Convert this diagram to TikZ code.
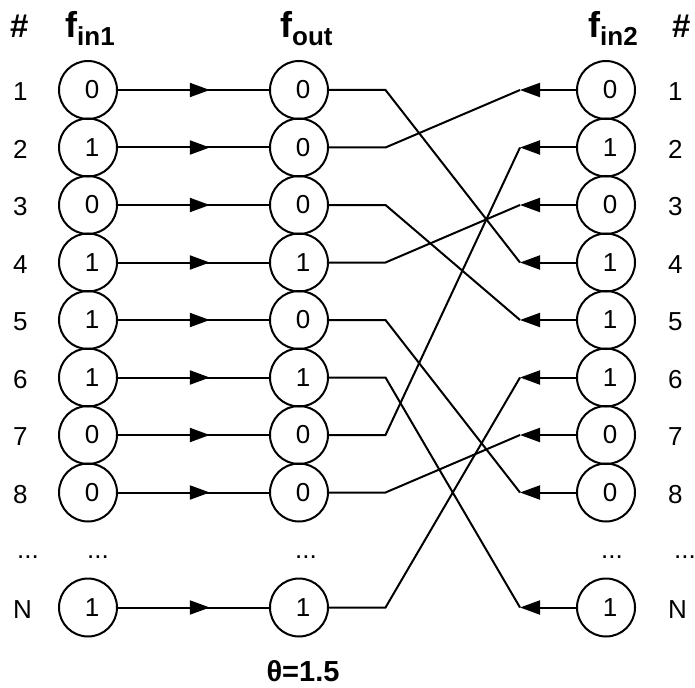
\documentclass[tikz,border=0pt]{standalone}
\usepackage{fontspec}
\setmainfont{Liberation Sans}
\usetikzlibrary{arrows.meta,calc}
\begin{document}
\begin{tikzpicture}[x=1pt,y=-1pt,
  cell/.style={circle,draw,line width=2pt,minimum size=58pt,inner sep=0pt,font=\fontsize{26}{30}\selectfont},
  lab/.style={inner sep=0pt,font=\fontsize{26}{30}\selectfont},
  head/.style={inner sep=0pt,anchor=base west,font=\bfseries\fontsize{36}{40}\selectfont},
  wire/.style={line width=2pt},
  arr/.style={line width=2pt,-{Triangle[length=20pt,width=14pt]}},
]
\useasboundingbox (0,0) rectangle (695,687);
% headers
\node[head,font=\bfseries\fontsize{33}{36}\selectfont] (hl) at (10,38) {\#};
\node[head,font=\bfseries\fontsize{33}{36}\selectfont] (hr) at (672,38) {\#};
\node[head] (h1) at (65,38) {f\raisebox{-8pt}{\fontsize{26}{28}\selectfont in1}};
\node[head] (h2) at (280,38) {f\raisebox{-8pt}{\fontsize{26}{28}\selectfont out}};
\node[head] (h3) at (588,38) {f\raisebox{-8pt}{\fontsize{26}{28}\selectfont in2}};
% rows
\foreach \k/\r/\a/\b/\c in {0/1/0/0/0,1/2/1/0/1,2/3/0/0/0,3/4/1/1/1,4/5/1/0/1,5/6/1/1/1,6/7/0/0/0,7/8/0/0/0,9/N/1/1/1}{
  \node[lab,anchor=west] (l\k) at (13,{92+57.5*\k}) {\r};
  \node[lab,anchor=west] (r\k) at (668,{92+57.5*\k}) {\r};
  \node[cell] (a\k) at (88,{90+57.5*\k}) {\raisebox{-2pt}{\hspace*{8pt}\a}};
  \node[cell] (o\k) at (299,{90+57.5*\k}) {\raisebox{-2pt}{\hspace*{8pt}\b}};
  \node[cell] (g\k) at (606,{90+57.5*\k}) {\raisebox{-2pt}{\hspace*{8pt}\c}};
  \coordinate (t\k) at (520,{90+57.5*\k});
  \draw[wire] (a\k.east) -- (o\k.west);
  \draw[arr] (a\k.east) -- ($(a\k.east)!0.608!(o\k.west)$);
  \draw[arr] (g\k.west) -- (t\k);
}
% dots row
\foreach \x/\n in {17/d1,87/d2,295/d3,601/d4,674/d5}
  \node[lab,anchor=base west] (\n) at (\x,558) {...};
% crossings
\foreach \s/\t in {0/3,1/0,2/4,3/2,4/7,5/9,6/1,7/6,9/5}
  \draw[wire] (o\s.east) -- ++(56.5,0) -- (t\t);
% theta
\node[inner sep=0pt,anchor=base,font=\bfseries\fontsize{29}{32}\selectfont] (th) at (303,681) {θ=1.5};
\end{tikzpicture}
\end{document}
